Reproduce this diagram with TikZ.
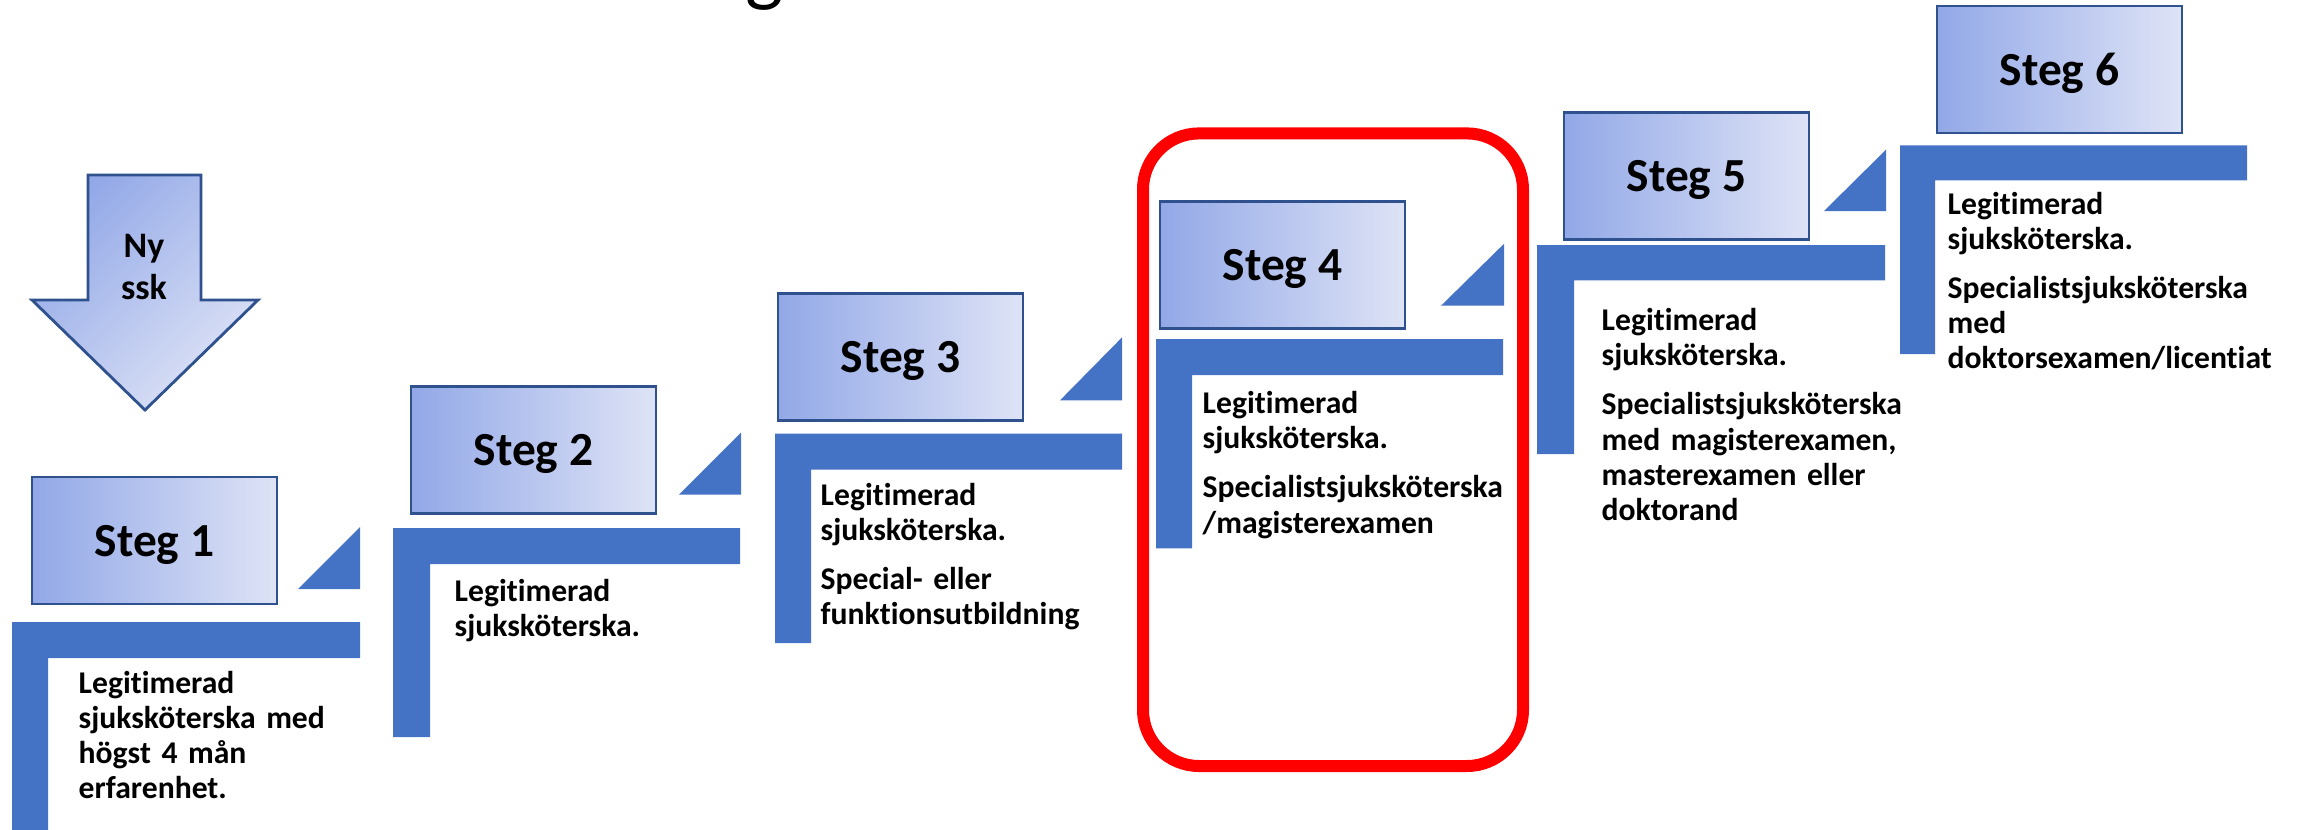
\documentclass[tikz,border=0pt]{standalone}
\usepackage{fontspec}
\setmainfont{Carlito}[Ligatures={NoCommon}]
\definecolor{stairblue}{RGB}{68,114,196}
\definecolor{boxedge}{RGB}{47,82,143}
\definecolor{shadeleft}{RGB}{146,168,231}
\definecolor{shaderight}{RGB}{222,227,246}
\definecolor{markred}{RGB}{255,0,0}

\begin{document}
\begin{tikzpicture}[x=0.01cm,y=-0.01cm,
  stegbox/.style={rectangle,draw=boxedge,line width=0.8pt,left color=shadeleft,right color=shaderight,
    minimum width=2.45cm,minimum height=1.27cm,inner sep=0pt,text depth=0pt,font=\bfseries\fontsize{13.5}{15}\selectfont},
  stair/.style={fill=stairblue},
  desc/.style={anchor=base west,inner sep=0pt,text width=3.5cm,align=left,font=\bfseries\fontsize{9}{10}\selectfont}]
\useasboundingbox (0,0) rectangle (2302,829);

\node[anchor=base west,inner sep=0pt,font=\fontsize{23}{27}\selectfont] (title) at (745,-4) {g};

\draw[draw=boxedge,line width=0.8pt,top color=shadeleft,bottom color=shaderight,shading angle=45]
  (88,175) -- (201,175) -- (201,300) -- (258,300) -- (145,410) -- (32,300) -- (88,300) -- cycle;
\node[anchor=base,inner sep=0pt,text width=1.2cm,align=center,font=\bfseries\fontsize{10.2}{12.2}\selectfont] (nyssk) at (144,257) {Ny\\ssk};

\fill[stair] (12,622) -- (360,622) -- (360,658) -- (48,658) -- (48,830) -- (12,830) -- cycle;
\fill[stair] (298,589) -- (360,589) -- (360,527) -- cycle;
\path (154.5,540.5) node[stegbox] (steg1) {Steg 1};
\path (78,693) node[desc] (txt1) {Legitimerad\\sjuksköterska med\\högst 4 mån\\erfarenhet.};

\fill[stair] (393,528) -- (740,528) -- (740,564) -- (430,564) -- (430,737) -- (393,737) -- cycle;
\fill[stair] (679,494.5) -- (741,494.5) -- (741,432.6) -- cycle;
\path (533.5,450) node[stegbox] (steg2) {Steg 2};
\path (454,601.5) node[desc] (txt2) {Legitimerad\\sjuksköterska.};

\fill[stair] (775,433.6) -- (1122,433.6) -- (1122,469.6) -- (811,469.6) -- (811,643) -- (775,643) -- cycle;
\fill[stair] (1060,400.3) -- (1122,400.3) -- (1122,337.4) -- cycle;
\path (900.5,357) node[stegbox] (steg3) {Steg 3};
\path (820,505) node[desc] (txt3) {Legitimerad\\sjuksköterska.\\[0.14cm]Special- eller\\funktionsutbildning};

\fill[stair] (1156,339) -- (1503,339) -- (1503,375) -- (1192,375) -- (1192,548.4) -- (1156,548.4) -- cycle;
\fill[stair] (1441,305.7) -- (1504,305.7) -- (1504,243.8) -- cycle;
\path (1282.5,264.7) node[stegbox] (steg4) {Steg 4};
\path (1202,413.5) node[desc] (txt4) {Legitimerad\\sjuksköterska.\\[0.14cm]Specialistsjuksköterska\\/magisterexamen};

\fill[stair] (1537,245) -- (1885,245) -- (1885,280.3) -- (1574,280.3) -- (1574,454) -- (1537,454) -- cycle;
\fill[stair] (1824,211) -- (1886,211) -- (1886,149.7) -- cycle;
\path (1686.5,176) node[stegbox] (steg5) {Steg 5};
\path (1601,330.5) node[desc] (txt5) {Legitimerad\\sjuksköterska.\\[0.14cm]Specialistsjuksköterska\\med magisterexamen,\\masterexamen eller\\doktorand};

\fill[stair] (1900,145.4) -- (2247,145.4) -- (2247,180.3) -- (1935,180.3) -- (1935,354) -- (1900,354) -- cycle;
\path (2059.5,69.5) node[stegbox] (steg6) {Steg 6};
\path (1947,214) node[desc] (txt6) {Legitimerad\\sjuksköterska.\\[0.14cm]Specialistsjuksköterska\\med\\doktorsexamen/licentiat};

\draw[markred,line width=0.12cm,rounded corners=0.56cm] (1143,133.4) rectangle (1523,766);
\end{tikzpicture}
\end{document}
